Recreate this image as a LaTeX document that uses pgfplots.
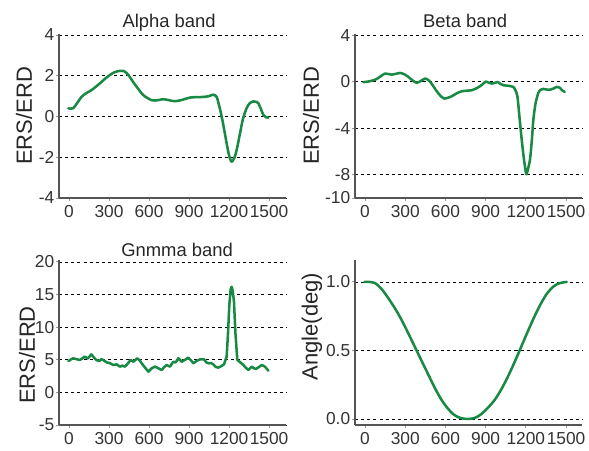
\documentclass[border=0pt]{standalone}
\usepackage{fontspec}
\setmainfont{Liberation Sans}
\usepackage{pgfplots}
\pgfplotsset{compat=1.18}
\definecolor{lgreen}{RGB}{24,138,68}
\definecolor{spine}{RGB}{85,85,85}
\pgfplotsset{
  panel/.style={
    scale only axis, width=170.25pt,
    axis lines=left, axis line style={draw=spine, line width=0.9pt, -},
    tick align=outside, major tick length=2.4pt,
    tick style={draw=black!40, line width=0.7pt},
    ymajorgrids, xmajorgrids=false,
    major grid style={black, line width=0.6pt, dash pattern=on 2.3pt off 2.3pt},
    /pgf/number format/assume math mode=true,
    ticklabel style={font=\fontsize{13}{15}\selectfont, text=black!80},
    yticklabel style={inner sep=1pt},
    xticklabel style={inner sep=3pt},
    xtick={0,300,600,900,1200,1500},
    xticklabels={0,300,600,900,1200,1500},
    every axis title shift=0pt,
    title style={font=\fontsize{13.8}{16}\selectfont, text=black!85, anchor=base},
    ylabel style={font=\fontsize{16.5}{18}\selectfont, text=black!85, anchor=center},
  },
  gline/.style={draw=lgreen, line width=1.9pt, line join=round, line cap=round, mark=none},
}
\begin{document}
\begin{tikzpicture}
\useasboundingbox (0,0) rectangle (441.75pt,337.5pt);
% ---------- Alpha ----------
\begin{axis}[panel, at={(44.25pt,189pt)}, anchor=south west, height=123pt,
  xmin=-75, xmax=1627, ymin=-4, ymax=4.05,
  ytick={-4,-2,0,2,4}, yticklabels={-4,-2,0,2,4},
  title={Alpha band}, title style={at={(axis description cs:0.485,1.037)}},
  ylabel={ERS/ERD}, ylabel style={at={(axis description cs:-0.154,0.5)}}]
\addplot[gline, smooth, tension=0.5] coordinates {
(-5,0.40) (30,0.40) (60,0.65) (95,0.97) (130,1.15) (170,1.30) (232,1.63) (270,1.85)
(307,2.04) (340,2.17) (370,2.23) (412,2.23) (445,2.04) (475,1.75) (507,1.46) (557,1.05)
(620,0.80) (665,0.80) (707,0.85) (750,0.80) (795,0.75) (850,0.82) (907,0.93) (960,0.95)
(1007,0.96) (1050,1.00) (1082,1.07) (1107,0.96) (1125,0.55) (1145,-0.01) (1165,-0.70)
(1182,-1.32) (1200,-1.90) (1217,-2.22) (1232,-2.12) (1247,-1.90) (1265,-1.40) (1282,-0.83)
(1305,-0.10) (1332,0.41) (1355,0.65) (1382,0.74) (1405,0.72) (1420,0.65) (1440,0.35)
(1457,0.08) (1475,-0.03) (1495,-0.06)};
\end{axis}
% ---------- Beta ----------
\begin{axis}[panel, at={(266.25pt,189pt)}, anchor=south west, height=123pt,
  xmin=-75, xmax=1619, ymin=-10, ymax=4.09,
  ytick={-10,-8,-4,0,4}, yticklabels={-10,-8,-4,0,4},
  title={Beta band}, title style={at={(axis description cs:0.485,1.037)}},
  ylabel={ERS/ERD}, ylabel style={at={(axis description cs:-0.194,0.5)}}]
\addplot[gline, smooth, tension=0.4] coordinates {
(-12,-0.05) (30,0.02) (75,0.16) (110,0.40) (149,0.69) (199,0.60) (261,0.74) (295,0.62)
(323,0.40) (355,0.10) (385,-0.11) (415,0.05) (448,0.26) (470,0.15) (485,0.0) (510,-0.40)
(535,-0.83) (565,-1.25) (592,-1.46) (620,-1.38) (647,-1.26) (685,-1.00) (722,-0.83)
(760,-0.78) (797,-0.74) (830,-0.58) (858,-0.40) (880,-0.20) (901,0.0) (925,-0.10)
(946,-0.17) (970,-0.10) (990,-0.03) (1010,-0.20) (1032,-0.31) (1070,-0.36) (1107,-0.46)
(1122,-0.75) (1137,-1.26) (1152,-3.0) (1169,-4.98) (1185,-6.6) (1203,-7.95) (1216,-7.5)
(1231,-6.7) (1245,-5.0) (1256,-3.26) (1272,-1.9) (1293,-0.97) (1310,-0.70) (1331,-0.63)
(1355,-0.68) (1381,-0.70) (1405,-0.60) (1430,-0.46) (1455,-0.54) (1470,-0.75) (1490,-0.88)};
\end{axis}
% ---------- Gamma ----------
\begin{axis}[panel, at={(44.25pt,18.75pt)}, anchor=south west, height=123.75pt,
  xmin=-75, xmax=1627, ymin=-5, ymax=20.3,
  ytick={-5,0,5,10,15,20}, yticklabels={-5,0,5,10,15,20},
  title={Gnmma band}, title style={at={(axis description cs:0.52,1.020)}},
  ylabel={ERS/ERD}, ylabel style={at={(axis description cs:-0.141,0.424)}}]
\addplot[gline] coordinates {
(-5,4.82) (30,5.23) (55,5.1) (80,4.97) (100,5.2) (117,5.48) (142,5.2) (167,5.84) (185,5.4)
(205,4.97) (225,4.8) (245,5.1) (265,4.85) (282,4.6) (305,4.5) (332,4.2) (357,4.3) (382,3.95)
(400,4.1) (420,3.95) (440,4.4) (462,4.97) (482,4.7) (512,5.23) (530,4.9) (545,4.46) (570,3.8)
(595,3.18) (620,3.7) (645,3.95) (670,3.7) (695,3.44) (715,3.9) (732,4.2) (757,3.95) (782,4.7)
(800,4.6) (820,5.23) (845,4.7) (870,5.0) (895,5.33) (915,4.9) (932,4.46) (955,4.8) (982,5.07)
(1012,5.07) (1030,4.6) (1045,4.46) (1065,4.5) (1082,4.3) (1100,3.9) (1120,3.8) (1140,4.0)
(1162,4.3) (1182,5.48) (1192,9.0) (1202,13.4) (1212,15.8) (1220,16.2) (1228,15.5) (1237,13.9)
(1248,9.0) (1262,4.97) (1285,4.6) (1307,4.2) (1325,3.8) (1345,3.44) (1370,3.95) (1385,3.7)
(1402,3.6) (1425,3.9) (1445,4.2) (1465,4.0) (1480,3.7) (1495,3.33)};
\end{axis}
% ---------- Angle ----------
\begin{axis}[panel, at={(266.25pt,18.75pt)}, anchor=south west, height=123.75pt,
  xmin=-75, xmax=1619, ymin=-0.044, ymax=1.16,
  ytick={0,0.5,1}, yticklabels={0.0,0.5,1.0},
  ylabel={Angle(deg)}, ylabel style={at={(axis description cs:-0.19,0.596)}}]
\addplot[gline, smooth, tension=0.55] coordinates {
(-5,1.0) (30,1.0) (70,0.993) (100,0.972) (137,0.932) (180,0.872) (224,0.806) (260,0.745)
(299,0.672) (340,0.59) (386,0.497) (430,0.408) (473,0.322) (520,0.228) (572,0.137) (615,0.08)
(659,0.034) (710,0.008) (765,0.0) (820,0.008) (868,0.036) (915,0.08) (968,0.14) (1020,0.222)
(1068,0.313) (1110,0.402) (1148,0.487) (1185,0.572) (1225,0.662) (1270,0.76) (1318,0.852)
(1360,0.918) (1405,0.966) (1450,0.99) (1505,1.0)};
\end{axis}
\end{tikzpicture}
\end{document}
